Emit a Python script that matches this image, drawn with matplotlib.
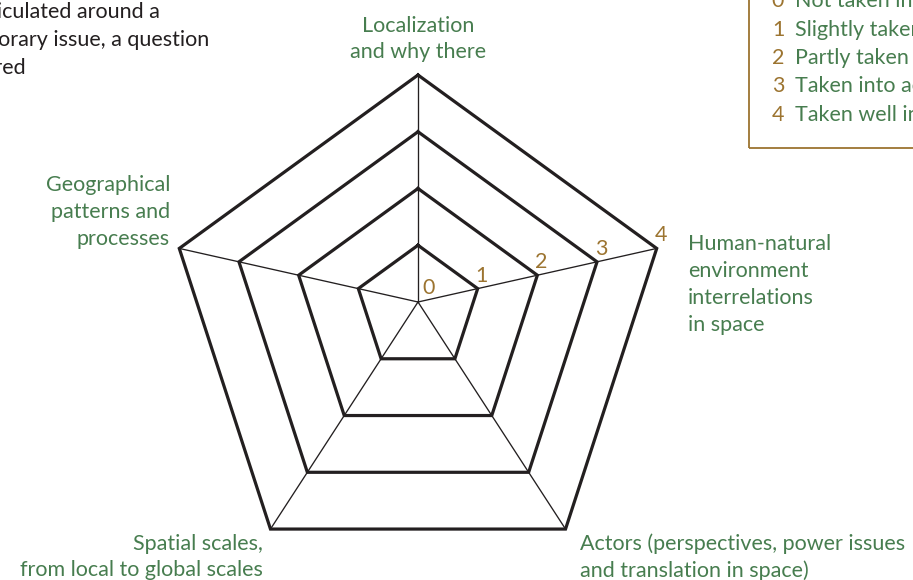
import numpy as np
import matplotlib.pyplot as plt
from matplotlib.patches import Rectangle

plt.rcParams['font.family'] = ['Lato', 'DejaVu Sans']

# data
axis_labels = ["Localization\nand why there",
               "Human-natural\nenvironment\ninterrelations\nin space",
               "Actors (perspectives, power issues\nand translation in space)",
               "Spatial scales,\nfrom local to global scales",
               "Geographical\npatterns and\nprocesses"]
levels = [0, 1, 2, 3, 4]
level_names = ["Not taken into account",
               "Slightly taken into account",
               "Partly taken into account",
               "Taken into account",
               "Taken well into account"]
note_lines = ["Problem articulated around a",
              "contemporary issue, a question",
              "answered"]

green = "#477d4f"
brown = "#9c7430"
ink = "#231f20"

W, H = 913, 580
fig = plt.figure(figsize=(W / 100, H / 100), dpi=100)
ax = fig.add_axes([0, 0, 1, 1])
scale = 62.75  # px per level
cx, cy = 418, 302
ax.set_xlim(-cx / scale, (W - cx) / scale)
ax.set_ylim(-(H - cy) / scale, cy / scale)
ax.axis('off')

def fx(x):
    return x / W

def fy(y):
    return 1 - y / H

ang = np.deg2rad(90 - 72 * np.arange(len(axis_labels)))
dx = np.cos(ang)
dy = np.sin(ang) - 0.0956

# spokes
for i in range(len(axis_labels)):
    ax.plot([0, dx[i] * levels[-1]], [0, dy[i] * levels[-1]], color=ink, lw=0.95)

# rings
for lv in levels[1:]:
    ax.plot(np.append(dx, dx[0]) * lv, np.append(dy, dy[0]) * lv,
            color=ink, lw=2.3, solid_joinstyle='miter')

fs = 15.5
ls = 1.42

# level numbers along the right spoke
for lv in levels:
    off = (11, 14) if lv == 0 else (4, 13)
    ax.annotate(str(lv), (dx[1] * lv, dy[1] * lv), xytext=off,
                textcoords='offset pixels', ha='center', va='center',
                color=brown, fontsize=fs)

fig.text(fx(418), fy(39), axis_labels[0], ha='center', va='center',
         multialignment='center', color=green, fontsize=fs, linespacing=ls)
fig.text(fx(688), fy(284.5), axis_labels[1], ha='left', va='center',
         color=green, fontsize=fs, linespacing=ls)
fig.text(fx(580), fy(557), axis_labels[2], ha='left', va='center',
         color=green, fontsize=fs, linespacing=ls)
fig.text(fx(263), fy(557), axis_labels[3], ha='right', va='center',
         multialignment='right', color=green, fontsize=fs, linespacing=ls)
fig.text(fx(170), fy(212), axis_labels[4], ha='right', va='center',
         multialignment='right', color=green, fontsize=fs, linespacing=ls)

# cut-off note at top left
note_ends = [160, 209, 26]
for k, line in enumerate(note_lines):
    fig.text(fx(note_ends[k]), fy(12 + 28 * k), line, ha='right', va='center',
             color=ink, fontsize=fs)

# legend box at top right
fig.add_artist(Rectangle((fx(749), fy(148)), fx(300), fy(-10) - fy(148),
                         transform=fig.transFigure, fill=False,
                         edgecolor=brown, lw=1.3))
for k, lv in enumerate(levels):
    y = 1 + 28.5 * k
    fig.text(fx(778), fy(y), str(lv), ha='center', va='center',
             color=brown, fontsize=fs)
    fig.text(fx(795), fy(y), level_names[k], ha='left', va='center',
             color=green, fontsize=fs)

fig.savefig("out.png", dpi=100)
